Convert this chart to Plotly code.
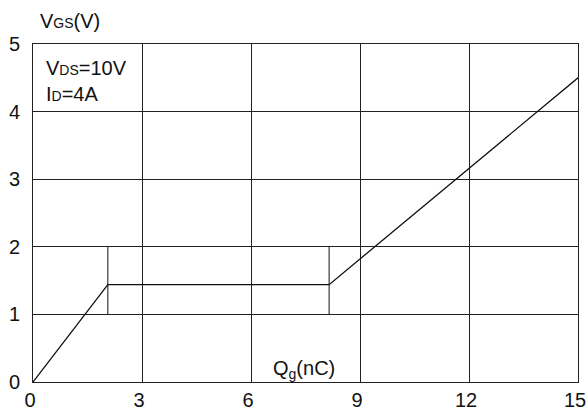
import plotly.graph_objects as go

# Gate charge curve
qg_nc = [0, 2.06, 8.15, 15]
vgs_v = [0, 1.44, 1.44, 4.5]
# Plateau boundary markers (vertical ticks)
marker_q = [2.06, 8.15]
marker_v_low = 1
marker_v_high = 2

x_ticks = [0, 3, 6, 9, 12, 15]
y_ticks = [0, 1, 2, 3, 4, 5]

FONT = "Liberation Sans, Arial, sans-serif"
INK = "#111111"
FS = 20
SMALL = 14

fig = go.Figure()
fig.add_trace(go.Scatter(x=qg_nc, y=vgs_v, mode="lines",
                         line=dict(color=INK, width=1.3), showlegend=False,
                         hoverinfo="skip"))
for q in marker_q:
    fig.add_trace(go.Scatter(x=[q, q], y=[marker_v_low, marker_v_high], mode="lines",
                             line=dict(color=INK, width=1), showlegend=False,
                             hoverinfo="skip"))

axis_common = dict(showgrid=True, gridcolor="#222222", gridwidth=1,
                   showline=True, linecolor="#222222", linewidth=1, mirror=True,
                   zeroline=False, ticks="", automargin=False,
                   ticklabeloverflow="allow",
                   tickfont=dict(family=FONT, size=FS, color=INK))
fig.update_xaxes(range=[0, 15], tickvals=x_ticks, ticklabelstandoff=0,
                 ticklabelshift=-3, **axis_common)
fig.update_yaxes(range=[0, 5], tickvals=y_ticks, ticklabelstandoff=8, **axis_common)

fig.add_annotation(xref="paper", yref="paper", x=0.01, y=1.0, yshift=10,
                   xanchor="left", yanchor="bottom", showarrow=False,
                   text=f"V<span style='font-size:{SMALL}px'>GS</span>(V)",
                   font=dict(family=FONT, size=FS, color=INK))
fig.add_annotation(xref="x", yref="y", x=0.3, y=4.64,
                   xanchor="left", yanchor="middle", showarrow=False,
                   text=f"V<span style='font-size:{SMALL}px'>DS</span>=10V",
                   font=dict(family=FONT, size=FS, color=INK))
fig.add_annotation(xref="x", yref="y", x=0.3, y=4.26,
                   xanchor="left", yanchor="middle", showarrow=False,
                   text=f"I<span style='font-size:{SMALL}px'>D</span>=4A",
                   font=dict(family=FONT, size=FS, color=INK))
fig.add_annotation(xref="x", yref="y", x=6.55, y=0.18,
                   xanchor="left", yanchor="middle", showarrow=False,
                   text="Q<sub>g</sub>(nC)",
                   font=dict(family=FONT, size=FS, color=INK))

fig.update_layout(width=588, height=412,
                  margin=dict(l=33, r=10, t=44, b=30),
                  paper_bgcolor="white", plot_bgcolor="white",
                  font=dict(family=FONT, color=INK))

# Remove the default page margin so the 588x412 figure fills the window exactly.
fig.write_html("out.html",
               config={"displayModeBar": False, "staticPlot": True},
               post_script="document.body.style.margin='0';document.body.style.overflow='hidden';")
